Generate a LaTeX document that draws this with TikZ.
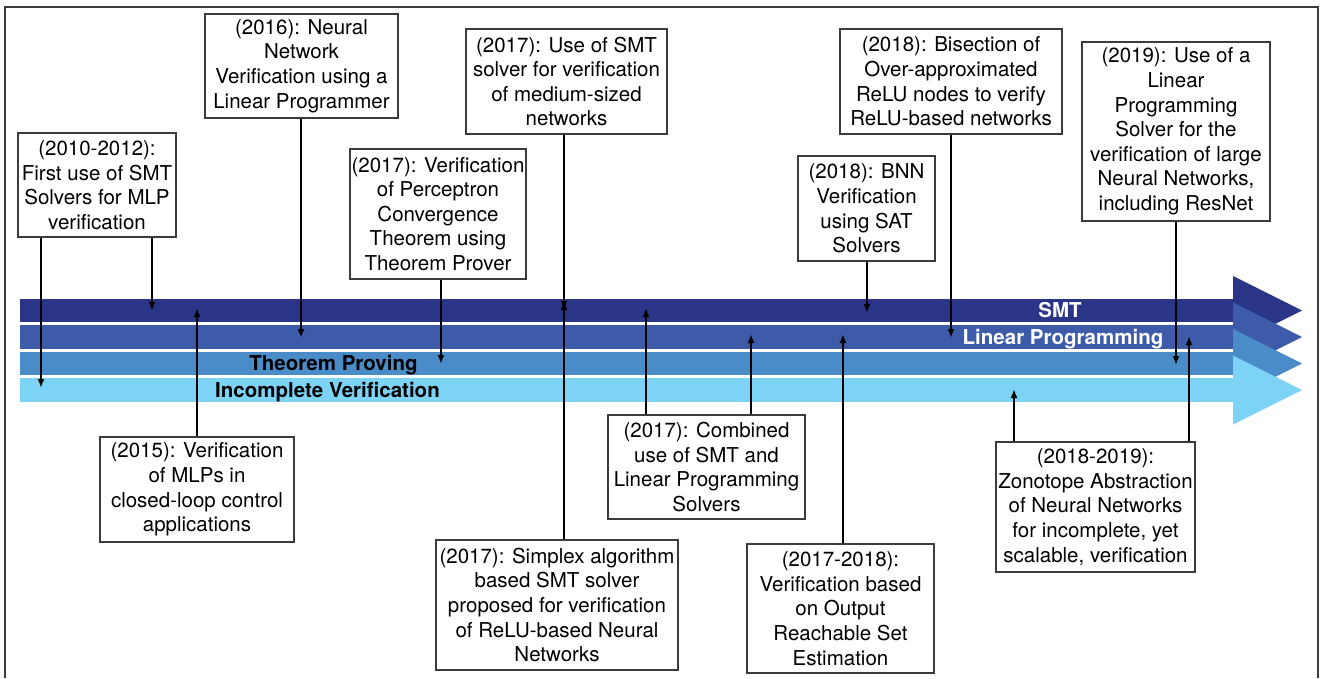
\documentclass[tikz,border=0pt]{standalone}
\usepackage{fontspec}
\setmainfont{TeX Gyre Heros}
\usetikzlibrary{arrows.meta,calc}
\definecolor{smtblue}{RGB}{43,53,135}
\definecolor{lpblue}{RGB}{61,91,168}
\definecolor{tpblue}{RGB}{74,140,200}
\definecolor{ivblue}{RGB}{125,211,245}
\definecolor{boxgray}{RGB}{60,60,60}

\begin{document}
\begin{tikzpicture}[x=1pt,y=-1pt,
	event/.style={draw=boxgray, line width=1.2pt, fill=white, align=center, inner sep=0pt,
		font=\fontsize{20.5}{24.6}\selectfont},
	band label/.style={anchor=base, font=\fontsize{20.5}{24.6}\selectfont\bfseries},
	link/.style={line width=2pt, -{Latex[length=9pt,width=7pt]}}]
\useasboundingbox (0,0) rectangle (1323,678);
% frame
\draw[boxgray, line width=1.5pt] (5,678) -- (5,7) -- (1318,7) -- (1318,678);
% bands
\foreach \c/\col in {310.5/smtblue, 337/lpblue, 363.5/tpblue, 390/ivblue} {
	\fill[\col] (20,\c-11.75) rectangle (1233,\c+11.75);
	\fill[\col] (1233,\c-34.5) -- (1302,\c) -- (1233,\c+34.5) -- cycle;
}
\node[band label, white] (smt) at (1060,317.5) {SMT};
\node[band label, white] (lp) at (1063,344) {Linear Programming};
\node[band label] (tp) at (333.5,370.5) {Theorem Proving};
\node[band label] (iv) at (327.5,397) {Incomplete Verification};

% events above
\node[event, minimum width=158, minimum height=104] (A) at (97,185)
	{(2010-2012):\\First use of SMT\\Solvers for MLP\\verification};
\node[event, minimum width=193, minimum height=104] (B) at (301.5,66)
	{(2016): Neural\\Network\\Verification using a\\Linear Programmer};
\node[event, minimum width=201, minimum height=105] (C) at (566.5,81.5)
	{(2017): Use of SMT\\solver for verification\\of medium-sized\\networks};
\node[event, minimum width=176, minimum height=130] (D) at (438,214)
	{(2017): Verification\\of Perceptron\\Convergence\\Theorem using\\Theorem Prover};
\node[event, minimum width=222, minimum height=105] (E) at (951,81.5)
	{(2018): Bisection of\\Over-approximated\\ReLU nodes to verify\\ReLU-based networks};
\node[event, minimum width=137, minimum height=105] (F) at (866.5,208.5)
	{(2018): BNN\\Verification\\using SAT\\Solvers};
\node[event, minimum width=188, minimum height=179] (G) at (1176,131.5)
	{(2019): Use of a\\Linear\\Programming\\Solver for the\\verification of large\\Neural Networks,\\including ResNet};

% events below
\node[event, minimum width=194, minimum height=105] (H) at (197,489.5)
	{(2015): Verification\\of MLPs in\\closed-loop control\\applications};
\node[event, minimum width=242, minimum height=130] (I) at (557,605)
	{(2017): Simplex algorithm\\based SMT solver\\proposed for verification\\of ReLU-based Neural\\Networks};
\node[event, minimum width=197, minimum height=104] (J) at (706.5,467)
	{(2017): Combined\\use of SMT and\\Linear Programming\\Solvers};
\node[event, minimum width=187, minimum height=129] (K) at (840.5,608.5)
	{(2017-2018):\\Verification based\\on Output\\Reachable Set\\Estimation};
\node[event, minimum width=199, minimum height=130] (L) at (1095.5,507)
	{(2018-2019):\\Zonotope Abstraction\\of Neural Networks\\for incomplete, yet\\scalable, verification};

% arrow tips on the bands
\foreach \n/\x/\y in {a1/41/388, a2/152/311, h1/197/308, b1/301/338, d1/441/364,
	c1/564/310, i1/564/301, j1/646/308, j2/751/334, k1/843/334, f1/867/313,
	e1/951/338, l1/1014/389, g1/1176/365, l2/1189/336}
	\coordinate (\n) at (\x,\y);

\path[link]
	(A.south -| a1) edge (a1)
	(A.south -| a2) edge (a2)
	(B.south -| b1) edge (b1)
	(C.south -| c1) edge (c1)
	(D.south -| d1) edge (d1)
	(E.south -| e1) edge (e1)
	(F.south -| f1) edge (f1)
	(G.south -| g1) edge (g1)
	(H.north -| h1) edge (h1)
	(I.north -| i1) edge (i1)
	(J.north -| j1) edge (j1)
	(J.north -| j2) edge (j2)
	(K.north -| k1) edge (k1)
	(L.north -| l1) edge (l1)
	(L.north -| l2) edge (l2);
\end{tikzpicture}
\end{document}
